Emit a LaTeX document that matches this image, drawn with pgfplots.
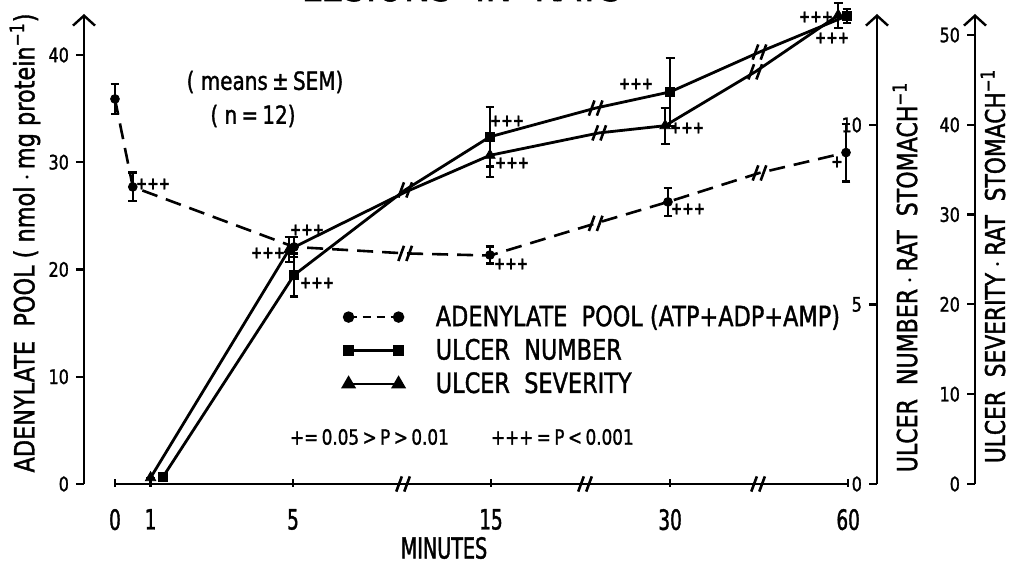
\documentclass[border=0pt]{standalone}
\usepackage{fontspec}
\setmainfont{DejaVu Sans}[FakeStretch=0.8, FakeBold=1.3]
\newfontfamily\narrowfont{DejaVu Sans}[FakeStretch=0.66, FakeBold=1.3]
\usepackage{pgfplots}
\pgfplotsset{compat=1.18}
\usetikzlibrary{arrows.meta}

\pgfdeclareplotmark{brk}{%
  \pgfsetlinewidth{1.3pt}%
  \pgfpathmoveto{\pgfqpoint{-3.4pt}{-3.8pt}}%
  \pgfpathlineto{\pgfqpoint{-0.6pt}{3.8pt}}%
  \pgfpathmoveto{\pgfqpoint{0.6pt}{-3.8pt}}%
  \pgfpathlineto{\pgfqpoint{3.4pt}{3.8pt}}%
  \pgfusepathqstroke}

\pgfplotsset{
  common/.style={at={(42pt,38.5pt)}, anchor=south west, scale only axis,
    width=396.5pt, height=235pt, xmin=-0.87, xmax=21.40, clip=false},
  side/.style={at={(#1,38.5pt)}, anchor=south west, scale only axis,
    width=20pt, height=235pt, xmin=0, xmax=1, axis x line=none, axis y line=left,
    y axis line style={line width=1.2pt, -{Straight Barb[length=5pt,width=11pt,line width=1.2pt]}},
    tick align=outside, major tick length=4pt, tick style={line width=1.1pt, black},
    yticklabel style={font=\fontsize{10}{10}\selectfont},
    /pgf/number format/assume math mode=true},
  errs/.style={error bars/.cd, y dir=both, y explicit,
    error bar style={line width=1.1pt, solid},
    error mark options={rotate=90, mark size=2.2pt, line width=1.1pt, solid}},
  adline/.style={line width=1.3pt, dash pattern=on 8pt off 4.5pt},
  solline/.style={line width=1.4pt},
}

\begin{document}
\begin{tikzpicture}
% ---------- left axis, x axis, adenylate pool ----------
\begin{axis}[common, ymin=0, ymax=43.82,
  axis x line=bottom, axis y line=left,
  x axis line style={line width=1.3pt, -, shorten <=15.5pt, shorten >=14.5pt},
  y axis line style={line width=1.2pt, -{Straight Barb[length=5pt,width=11pt,line width=1.2pt]}},
  xtick={0,1,5,10.56,15.59,20.59}, xticklabels={0,1,5,15,30,60},
  ytick={0,10,20,30,40},
  tick align=outside, major tick length=4pt, tick style={line width=1.1pt, black},
  xtick style={yshift=2.5pt}, 
  x tick label style={font=\narrowfont\fontsize{14}{14}\selectfont, yshift=-5pt},
  y tick label style={font=\fontsize{10}{10}\selectfont},
  /pgf/number format/assume math mode=true,
  legend style={at={(rel axis cs:0.3266,0.392)}, anchor=north west, draw=none, fill=none,
    font=\fontsize{14}{14}\selectfont, row sep=0pt, inner sep=0pt,
    nodes={inner ysep=2.4pt},
    /tikz/every odd column/.append style={column sep=14pt}},
  legend cell align=left,
  legend image code/.code={\draw[#1] plot coordinates {(0pt,0pt) (25pt,0pt)};},
]
% line through the drawn vertices (incl. the kinks at the axis breaks)
\addplot[adline, forget plot] table {
x y
0 35.9
0.5 27.7
5.03 22.1
8.15 21.5
10.53 21.3
13.5 24.3
15.53 26.3
18.1 29.0
20.53 30.9
};
% measured means +- SEM
\addplot[forget plot, only marks, mark=*, mark size=2.2pt, errs] table[x=x, y=y, y error=e] {
x y e
0 35.9 1.4
0.5 27.7 1.35
5.03 22.1 0.9
10.53 21.35 0.8
15.53 26.3 1.3
20.53 30.9 2.7
};
% break marks on the line and on the x axis
\addplot[forget plot, only marks, mark=brk] table {
x y
8.15 21.5
13.5 24.3
18.1 29.0
};
\addplot[forget plot, only marks, mark=brk] table {
x y
8.09 0
13.2 0
18.06 0
};
\addlegendimage{line width=1.3pt, dash pattern=on 4pt off 3pt, mark=*, mark size=2.2pt, mark options={solid}}
\addlegendentry{ADENYLATE\ \ POOL (ATP+ADP+AMP)}
\addlegendimage{line width=1.4pt, mark=square*, mark size=2.2pt}
\addlegendentry{ULCER\ \ NUMBER}
\addlegendimage{line width=1.4pt, mark=triangle*, mark size=3pt}
\addlegendentry{ULCER\ \ SEVERITY}
\end{axis}

% ---------- ulcer number data ----------
\begin{axis}[common, ymin=0, ymax=13.09, axis lines=none]
\addplot[solline] table {
x y
1.35 0.2
5.03 5.82
8.15 8.19
10.53 9.67
13.5 10.47
15.59 10.92
18.1 12.03
20.56 13.04
};
\addplot[only marks, mark=square*, mark size=2.3pt, errs] table[x=x, y=y, y error=e] {
x y e
1.35 0.2 0
5.03 5.82 0.6
10.53 9.67 0.83
15.59 10.92 0.95
20.56 13.04 0.2
};
\addplot[only marks, mark=brk] table {
x y
8.15 8.19
13.5 10.47
18.1 12.03
};
\end{axis}

% ---------- ulcer severity data ----------
\begin{axis}[common, ymin=0, ymax=52.34, axis lines=none]
\addplot[solline] table {
x y
1.0 0.7
4.89 26.1
8.15 32.5
10.53 36.6
13.6 39.1
15.45 39.9
17.98 45.9
20.31 52.2
};
\addplot[only marks, mark=triangle*, mark size=3pt, errs] table[x=x, y=y, y error=e] {
x y e
1.0 0.7 0
4.89 26.1 1.4
10.53 36.6 2.4
15.45 39.9 2.0
20.31 52.2 1.4
};
\addplot[only marks, mark=brk] table {
x y
13.6 39.1
17.98 45.9
};
\end{axis}

% ---------- right-hand y axes ----------
\begin{axis}[side=438.5pt, ymin=0, ymax=13.09, ytick={0,5,10}]
\end{axis}
\begin{axis}[side=487.5pt, ymin=0, ymax=52.34, ytick={0,10,20,30,40,50}]
\end{axis}

% ---------- texts (pixel coordinates of the reference) ----------
\begin{scope}[x=0.5pt, y=-0.5pt, shift={(0pt,280.5pt)}]
\node[rotate=90, inner sep=0pt, font=\fontsize{14}{14}\selectfont] at (25,243)
  {ADENYLATE\ \ POOL ( nmol\,$\cdot$\,mg protein\textsuperscript{\char"2212 1})};
\node[rotate=90, inner sep=0pt, font=\fontsize{13.8}{13.8}\selectfont] at (905,277)
  {ULCER\ \ NUMBER\,$\cdot$\,RAT\ \ STOMACH\textsuperscript{\char"2212 1}};
\node[rotate=90, inner sep=0pt, font=\fontsize{13.6}{13.6}\selectfont] at (993,266)
  {ULCER\ \ SEVERITY\,$\cdot$\,RAT\ \ STOMACH\textsuperscript{\char"2212 1}};
\node[inner sep=0pt, font=\narrowfont\fontsize{14.5}{14.5}\selectfont] at (444,548) {MINUTES};
\node[font=\fontsize{12.5}{13}\selectfont] at (265,82) {( means\,±\,SEM)};
\node[font=\fontsize{12.5}{13}\selectfont] at (253,116) {( n\,=\,12)};
\node[font=\fontsize{10.5}{11}\selectfont, anchor=west] at (283,437) {+=\,0.05\,>\,P\,>\,0.01};
\node[font=\fontsize{10.5}{11}\selectfont, anchor=west] at (484,437) {+++\,=\,P\,<\,0.001};
\begin{scope}[every node/.style={font=\fontsize{8.5}{9}\bfseries, inner sep=0pt}]
\node at (153,184) {+++};
\node at (268,253) {+++};
\node at (307,230) {+++};
\node at (317,283) {+++};
\node at (507,121) {+++};
\node at (512,163) {+++};
\node at (511,264) {+++};
\node at (636,84) {+++};
\node at (687,128) {+++};
\node at (688,209) {+++};
\node at (816,17) {+++};
\node at (832,38) {+++};
\node at (837,162) {+};
\end{scope}
\clip (0,0) rectangle (1013,561);
\node[font=\fontsize{22}{22}\selectfont, anchor=base] at (462,1) {LESIONS\ \ IN\ \ RATS};
\end{scope}
\pgfresetboundingbox
\path[use as bounding box] (0pt,0pt) rectangle (506.5pt,280.5pt);
\end{tikzpicture}
\end{document}
